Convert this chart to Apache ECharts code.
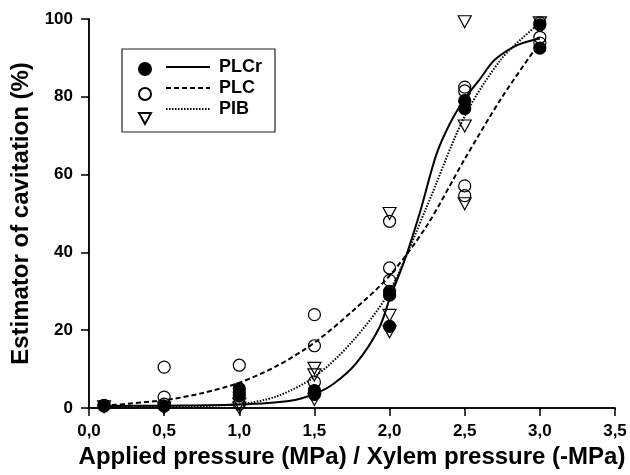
<!DOCTYPE html>
<html>
<head>
<meta charset="utf-8">
<script src="https://cdn.jsdelivr.net/npm/echarts@6/dist/echarts.min.js"></script>
<style>
  html, body { margin: 0; padding: 0; background: #fff; }
  #chart { width: 630px; height: 475px; }
</style>
</head>
<body>
<div id="chart"></div>
<script>
// measured points [pressure, %]
var plcrPoints = [[0.1, 0.7], [0.5, 0.5], [1.0, 5.0], [1.0, 4.0], [1.0, 3.2], [1.5, 4.5], [1.5, 3.5],
  [2.0, 30], [2.0, 29], [2.0, 21], [2.5, 79], [2.5, 77], [3.0, 98.5], [3.0, 92.5]];
var plcPoints = [[0.1, 0.5], [0.5, 10.5], [0.5, 2.8], [0.5, 1.0], [1.0, 11.0], [1.0, 1.0],
  [1.5, 24.0], [1.5, 16.0], [1.5, 6.7], [2.0, 48.0], [2.0, 36.0], [2.0, 32.8],
  [2.5, 82.5], [2.5, 81.5], [2.5, 57.1], [2.5, 54.6], [3.0, 99], [3.0, 95.3], [3.0, 93.8]];
var pibPoints = [[0.1, 0.3], [0.5, 0], [1.0, 1.0], [1.0, 0], [1.5, 10.2], [1.5, 8.5], [1.5, 2.2],
  [2.0, 50], [2.0, 23.8], [2.0, 19.6], [2.5, 99.3], [2.5, 72.5], [2.5, 52.5], [3.0, 99]];

// fitted curves
var plcrCurve = [[0.1, 0.5], [0.5, 0.6], [1.0, 0.9], [1.33, 1.8], [1.5, 3.6], [1.63, 6.3], [1.78, 11.6],
  [1.93, 20.5], [2.0, 28], [2.1, 38], [2.2, 50], [2.31, 65], [2.4, 73], [2.5, 79.5], [2.6, 84.5],
  [2.7, 89.5], [2.85, 93.3], [3.0, 95]];
var plcCurve = [[0.1, 0.6], [0.5, 2], [0.75, 3.8], [1.0, 6.5], [1.25, 10.8], [1.5, 16.8], [1.75, 24.8],
  [2.0, 34], [2.25, 47], [2.5, 64], [2.75, 80], [3.0, 94]];
var pibCurve = [[0.1, 0.2], [0.5, 0.3], [1.0, 1], [1.25, 3], [1.5, 8], [1.75, 17], [2.0, 30],
  [2.25, 52], [2.5, 75], [2.75, 90], [3.0, 99]];

var font = 'Liberation Sans, Arial, sans-serif';
var triangleDown = 'path://M0,0 L12,0 L6,11 Z';
var chart = echarts.init(document.getElementById('chart'));

function pointSeries(name, data, symbol, fill, size) {
  return {
    name: name,
    type: 'scatter',
    data: data,
    symbol: symbol,
    symbolSize: size,
    itemStyle: { color: fill, borderColor: '#000', borderWidth: 1.2, opacity: 1 },
    emphasis: { disabled: true },
    z: 3
  }
}

function curveSeries(name, data, type, width) {
  return {
    name: name,
    type: 'line',
    data: data,
    smooth: 0.3,
    symbol: 'none',
    lineStyle: { color: '#000', width: width, type: type },
    itemStyle: { color: '#000' },
    emphasis: { disabled: true },
    z: 2
  }
}

chart.setOption({
  animation: false,
  grid: { left: 89, right: 15, top: 19, bottom: 67 },
  legend: [
    {
      // symbols column
      data: ['PLCr pts', 'PLC pts', 'PIB pts'],
      orient: 'vertical',
      left: 138, top: 62, padding: 0,
      itemWidth: 12, itemHeight: 12, itemGap: 11,
      formatter: function () { return '' },
      selectedMode: false
    },
    {
      // line styles + names, symbol hidden
      data: ['PLCr', 'PLC', 'PIB'],
      orient: 'vertical',
      left: 165, top: 58, padding: 0,
      itemWidth: 44, itemHeight: 20, itemGap: 3,
      itemStyle: { opacity: 0 },
      textStyle: { fontFamily: font, fontWeight: 'bold', fontSize: 18, color: '#000', padding: [0, 0, 0, 4] },
      selectedMode: false
    }
  ],
  graphic: [{
    type: 'rect',
    shape: { x: 122, y: 49, width: 153, height: 83 },
    style: { fill: 'none', stroke: '#222', lineWidth: 1.2 },
    z: 1
  }],
  xAxis: [
    {
      type: 'value', min: 0, max: 3.5, interval: 0.5,
      name: 'Applied pressure (MPa) / Xylem pressure (-MPa)',
      nameLocation: 'middle', nameGap: 33,
      nameTextStyle: { fontFamily: font, fontWeight: 'bold', fontSize: 24, color: '#000' },
      axisLine: { onZero: false, lineStyle: { color: '#000', width: 1.5 } },
      axisTick: { length: 8, lineStyle: { color: '#000', width: 1.5 } },
      axisLabel: {
        fontFamily: font, fontWeight: 'bold', fontSize: 17, color: '#000', margin: 15,
        formatter: function (v) { return v.toFixed(1).replace('.', ',') }
      },
      splitLine: { show: false }
    },
    {
      type: 'value', min: 0, max: 3.5, interval: 0.5, position: 'top',
      axisLine: { lineStyle: { color: '#000', width: 1.5 } },
      axisTick: { inside: true, length: 2, lineStyle: { color: '#000' } },
      axisLabel: { show: false },
      splitLine: { show: false }
    }
  ],
  yAxis: [
    {
      type: 'value', min: 0, max: 100, interval: 20,
      name: 'Estimator of cavitation (%)',
      nameLocation: 'middle', nameGap: 55,
      nameTextStyle: { fontFamily: font, fontWeight: 'bold', fontSize: 24, color: '#000' },
      axisLine: { show: true, onZero: false, lineStyle: { color: '#000', width: 1.5 } },
      axisTick: { show: true, length: 8, lineStyle: { color: '#000', width: 1.5 } },
      axisLabel: { fontFamily: font, fontWeight: 'bold', fontSize: 17, color: '#000', margin: 16 },
      splitLine: { show: false }
    },
    {
      type: 'value', min: 0, max: 100, interval: 20, position: 'right',
      axisLine: { show: true, lineStyle: { color: '#000', width: 1.5 } },
      axisTick: { show: true, inside: true, length: 2, lineStyle: { color: '#000' } },
      axisLabel: { show: false },
      splitLine: { show: false }
    }
  ],
  series: [
    curveSeries('PLCr', plcrCurve, 'solid', 2),
    curveSeries('PLC', plcCurve, [5, 3], 2),
    curveSeries('PIB', pibCurve, [1.5, 1.5], 2),
    pointSeries('PLC pts', plcPoints, 'circle', 'rgba(255,255,255,0)', 12),
    pointSeries('PLCr pts', plcrPoints, 'circle', '#000', 12),
    pointSeries('PIB pts', pibPoints, triangleDown, 'rgba(255,255,255,0)', [13, 12])
  ]
});
</script>
</body>
</html>
